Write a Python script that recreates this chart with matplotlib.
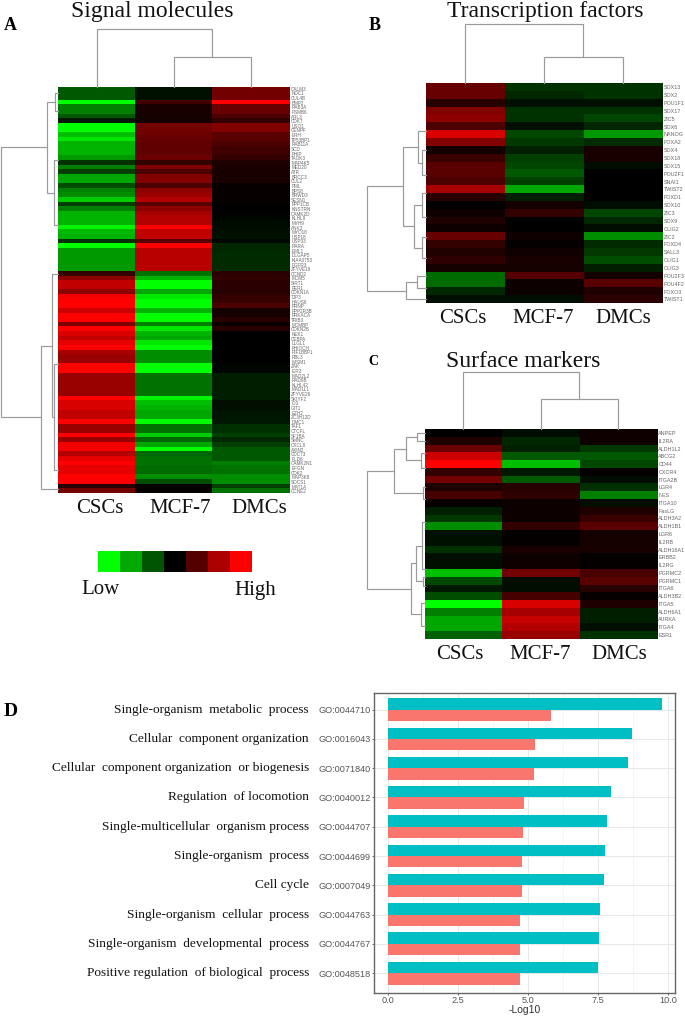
import numpy as np
import matplotlib
matplotlib.use("Agg")
import matplotlib.pyplot as plt
from matplotlib.colors import LinearSegmentedColormap, ListedColormap
from matplotlib.ticker import MultipleLocator

W, H = 685, 1017
SERIF = "Liberation Serif"
SANS = "Liberation Sans"

SAMPLES = ["CSCs", "MCF-7", "DMCs"]

GENES_A = ["CALM3","NDC1","CUL4B","BMP2","RAB3A","PSMB6","ARL3","CDK7","USO1","CENPF","ERH","TP53BP1",
 "RAB11A","SCD","PHIP","TAOK3","MAP4K5","MED20","ATR","BRCC3","CUL2","PML","BPS8","BRWD3","SESN1","PPP1CB",
 "KNSTRN","CAMK2D","KLHL9","MYH9","ANK3","MYO18","USP18","USP33","RARA","EML1","DLGAP5","KIAA0753","FGFR3",
 "ZFYVE19","CCND2","MCM5","SIRT1","PER1","CDKN1A","TJP3","HAUS6","PRNP","PPP2R3B","PRKACA","TRIB3","MCMBP",
 "CDKN2B","NEK1","CEBPA","LLGL1","PHIOCH","RIF1BBP1","RBL3","IMSM1","ZAK","IER3","MAD2L2","RAD9B","KLHL42",
 "MAD1L1","ZFYVE26","SKIYF2","ID3","GIT1","EZH2","ZC3H12D","DMC1","TAF1","CTCFL","SF1BA","SMNC","CXCL8",
 "AXIN2","CDC73","PLD6","CAMK2N1","EFGN","CDK2","MAP3K8","SOCS1","MAT1A","CCNE2"]
VALUES_A = [
 [-.35,-.07,.45],[-.35,-.07,.45],[-.35,-.07,.45],[-1,.25,1],[-.5,.1,.4],[-.5,.1,.4],[-.35,.08,.3],[-.1,.08,.2],
 [-1,.45,.5],[-1,.45,.5],[-.75,.42,.35],[-.9,.4,.35],[-.7,.38,.3],[-.7,.38,.25],[-.7,.38,.25],[-.6,.42,.2],
 [-.2,.2,.12],[-.5,.5,.1],[-.25,.3,.1],[-.65,.5,.1],[-.65,.5,.1],[-.3,.3,.03],[-.5,.55,.03],[-.55,.6,.03],
 [-.8,.7,.03],[-.25,.35,.01],[-.5,.55,0],[-.7,.65,0],[-.7,.7,-.02],[-.7,.7,-.04],[-.95,1,-.05],[-.72,.75,-.06],
 [-.7,.75,-.07],[-.2,.35,-.03],[-1,1,-.15],[-.6,.72,-.15],[-.6,.72,-.17],[-.6,.72,-.17],[-.6,.72,-.17],[-.6,.72,-.17],
 [.2,-.45,.17],[.55,-.7,.2],[.75,-1,.17],[.75,-1,.17],[.55,-.65,.15],[.95,-.9,.2],[1,-1,.22],[1,-1,.3],
 [.8,-.7,.08],[1,-1,.1],[1,-1,.15],[.5,-.5,.05],[1,-.9,.15],[.85,-.7,0],[.75,-.65,0],[.9,-.9,0],
 [1,-1,0],[.65,-.55,0],[.6,-.55,0],[.6,-.55,0],[1,-1,-.02],[1,-1,-.02],[.6,-.45,-.12],[.6,-.45,-.12],
 [.6,-.45,-.12],[.6,-.45,-.12],[.6,-.45,-.12],[1,-.95,-.12],[.85,-.75,-.05],[.85,-.7,-.06],[.75,-.65,-.08],[.75,-.65,-.08],
 [1,-1,-.1],[.6,-.45,-.18],[.6,-.45,-.18],[1,-.8,-.25],[.6,-.4,-.15],[.95,-.65,-.25],[.95,-1,-.35],[.7,-.4,-.35],
 [.9,-.45,-.35],[1,-.45,-.5],[.9,-.42,-.45],[.9,-.42,-.45],[1,-.55,-.55],[1,-.3,-.55],[.15,.02,-.25],[.45,.02,-.45]]

GENES_B = ["SOX13","SOX2","POU1F1","SOX17","ZIC5","SOX6","NANOG","FOXA2","SOX4","SOX18","SOX15","POU2F1","SNAI1",
 "TWIST2","FOXD1","SOX10","ZIC3","SOX9","OLIG2","ZIC2","FOXD4","SALL3","OLIG1","OLIG3","POU2F3","POU4F2","FOXO3","TWIST1"]
VALUES_B = [
 [.4,-.2,-.2],[.4,-.15,-.2],[.15,-.07,-.07],[.5,-.2,-.2],[.55,-.2,-.27],[.3,-.07,-.15],[.85,-.27,-.6],[.5,-.22,-.17],
 [.08,-.12,.1],[.22,-.25,.1],[.35,-.27,-.05],[.35,-.35,0],[.3,-.25,0],[.65,-.65,0],[.15,-.12,0],[0,.08,-.05],
 [.06,.2,-.27],[.12,0,-.15],[.06,0,-.05],[.4,.06,-.55],[.2,.02,-.17],[.13,.07,-.22],[.18,.1,-.3],[.08,.08,-.12],
 [-.42,.33,.08],[-.42,.05,.35],[-.15,.06,.12],[-.05,-.05,.17]]

GENES_C = ["ANPEP","IL2RA","ALDH1L2","ABCG2","CD44","CXCR4","ITGA2B","LGR4","NES","ITGA10","FasLG","ALDH3A2","ALDH1B1",
 "LGR6","IL2RB","ALDH16A1","ERBB2","IL2RG","PGRMC2","PGRMC1","ITGA6","ALDH3B2","ITGA5","ALDH6A1","AURKA","ITGA4","ESR1"]
VALUES_C = [
 [0,-.05,.06],[.12,-.15,.06],[.42,-.13,-.22],[.8,-.35,-.35],[1,-.75,-.28],[.2,-.1,.02],[.45,-.35,-.05],[.12,.15,-.18],
 [.28,.18,-.5],[.03,.05,-.05],[-.12,.05,.12],[-.22,.06,.22],[-.55,.2,.35],[-.07,.02,.08],[-.07,.02,.08],[-.18,.1,.1],
 [-.06,.06,.02],[-.06,.06,.02],[-.75,.45,.28],[-.28,-.05,.35],[-.1,-.05,.15],[-.3,.28,.03],[-1,.85,.12],[-.5,.65,-.12],
 [-.65,.78,-.12],[-.65,.7,-.06],[-.38,.6,-.2]]

# Dendrograms: (height, child, child); a bare number is a leaf position on the gene/sample axis
ROWTREE_A = (1.0,
    (.2, (.05, 1.3, 5.4), (.07, 15.9, 30.0)),
    (.29, (.105, 40.5, (.07, 60.0, 83.0)), 87.0))
ROWTREE_B = (1.0,
    (.378, (.122, 6.03, (.065, 8.5, 11.7)),
           (.19, (.06, 14.0, 17.0), (.06, 19.6, 22.2))),
    (.33, (.14, 24.5, 26.0), 27.5))
ROWTREE_C = (1.0,
    (.53, (.33, (.14, .5, 1.5), (.06, 3.0, 5.0)), (.03, 7.5, 9.0)),
    (.24, (.15, (.05, 12.0, 18.0), (.03, 19.0, 20.2)), (.06, 22.4, 25.3)))
COLTREE_A = (1.0, .5, (.51, 1.5, 2.5))
COLTREE_B = (1.0, .5, (.45, 1.5, 2.5))
COLTREE_C = (1.0, .5, (.52, 1.5, 2.5))

LEGEND_COLORS = ["#00FF00", "#00AA00", "#005500", "#000000", "#550000", "#AA0000", "#FF0000"]

GO_TERMS = ["Single-organism  metabolic  process", "Cellular  component organization",
 "Cellular  component organization  or biogenesis", "Regulation  of locomotion",
 "Single-multicellular  organism process", "Single-organism  process", "Cell cycle",
 "Single-organism  cellular  process", "Single-organism  developmental  process",
 "Positive regulation  of biological  process"]
GO_IDS = ["GO:0044710","GO:0016043","GO:0071840","GO:0040012","GO:0044707","GO:0044699","GO:0007049",
 "GO:0044763","GO:0044767","GO:0048518"]
LOG10_CYAN = [9.78, 8.73, 8.59, 7.98, 7.82, 7.74, 7.71, 7.59, 7.52, 7.49]
LOG10_RED = [5.83, 5.24, 5.22, 4.87, 4.83, 4.80, 4.80, 4.73, 4.72, 4.72]

cmap = LinearSegmentedColormap.from_list("gkr", ["#00FF00", "#000000", "#FF0000"])
fig = plt.figure(figsize=(W / 100, H / 100), dpi=100)


def axpx(x0, y0, x1, y1):
    return fig.add_axes([x0 / W, 1 - y1 / H, (x1 - x0) / W, (y1 - y0) / H])


def txt(x, y, s, **kw):
    kw.setdefault("ha", "center")
    kw.setdefault("va", "center")
    kw.setdefault("family", SERIF)
    kw.setdefault("color", "#111111")
    return fig.text(x / W, 1 - y / H, s, **kw)


def draw_tree(ax, node, horizontal):
    if not isinstance(node, tuple):
        return node, 0.0
    h, a, b = node
    pa, ha = draw_tree(ax, a, horizontal)
    pb, hb = draw_tree(ax, b, horizontal)
    xs, ys = [ha, h, h, hb], [pa, pa, pb, pb]
    if not horizontal:
        xs, ys = ys, xs
    ax.plot(xs, ys, color="#9a9a9a", lw=.85, solid_joinstyle="miter", clip_on=False)
    return (pa + pb) / 2, h


def heatmap(box, genes, values, rowtree, coltree, row_left, col_top, fs, label_xs, label_base):
    x0, y0, x1, y1 = box
    ax = axpx(x0, y0, x1, y1)
    ax.imshow(np.array(values), cmap=cmap, vmin=-1, vmax=1, aspect="auto", interpolation="nearest",
              extent=(0, 3, len(genes), 0))
    ax.yaxis.tick_right()
    ax.set_yticks(np.arange(len(genes)) + .5, genes, family=SANS, fontsize=fs, color="#666666")
    ax.tick_params(axis="y", length=0, pad=1.2)
    ax.set_xticks([])
    for s in ax.spines.values():
        s.set_visible(False)
    for cx, name in zip(label_xs, SAMPLES):
        txt(cx, label_base, name, fontsize=15, va="baseline")
    rx = axpx(row_left, y0, x0, y1)
    rx.axis("off")
    rx.set_xlim(1, 0)
    rx.set_ylim(len(genes), 0)
    draw_tree(rx, rowtree, True)
    cxa = axpx(x0, col_top, x1, y0)
    cxa.axis("off")
    cxa.set_xlim(0, 3)
    cxa.set_ylim(0, 1)
    draw_tree(cxa, coltree, False)


heatmap((58, 86.5, 289.5, 493.5), GENES_A, VALUES_A, ROWTREE_A, COLTREE_A, 1, 29, 3.3, (99.5, 180, 259), 513)
heatmap((425.5, 83.3, 662, 303.3), GENES_B, VALUES_B, ROWTREE_B, COLTREE_B, 366.7, 24, 3.9, (463, 543, 623), 323)
heatmap((424.7, 429.3, 656.7, 638.7), GENES_C, VALUES_C, ROWTREE_C, COLTREE_C, 366.7, 371.7, 3.9, (460, 540, 619), 659)

txt(152, 17.5, "Signal molecules", fontsize=17, va="baseline")
txt(545, 17, "Transcription factors", fontsize=17, va="baseline")
txt(523, 367, "Surface markers", fontsize=17, va="baseline")
txt(10, 26, "A", fontsize=13, fontweight="bold", color="black")
txt(375, 26, "B", fontsize=13, fontweight="bold", color="black")
txt(373, 361, "C", fontsize=10, fontweight="bold", color="black")
txt(11, 712, "D", fontsize=14, fontweight="bold", color="black")

# colour key
lg = axpx(98.3, 550.7, 251.7, 572.3)
lg.imshow([np.arange(len(LEGEND_COLORS))], cmap=ListedColormap(LEGEND_COLORS), aspect="auto", interpolation="nearest")
lg.axis("off")
txt(101, 590, "Low", fontsize=15)
txt(255, 590, "High", fontsize=15)

# panel D
bx = axpx(374, 692.7, 675.5, 993)
ypos = np.arange(len(GO_IDS))
bar_h = .39
bx.barh(ypos - bar_h / 2, LOG10_CYAN, height=bar_h, color="#00BFC4", zorder=3)
bx.barh(ypos + bar_h / 2, LOG10_RED, height=bar_h, color="#F8766D", zorder=3)
bx.set_xlim(-.5, 10.27)
bx.set_ylim(9.68, -.58)
bx.set_yticks(ypos, GO_IDS, family=SANS, fontsize=6.6, color="#555555")
bx.set_xticks([0, 2.5, 5, 7.5, 10], ["0.0", "2.5", "5.0", "7.5", "10.0"], family=SANS, fontsize=6.6, color="#555555")
bx.xaxis.set_minor_locator(MultipleLocator(1.25))
bx.tick_params(axis="both", which="major", length=1.5, width=.6, color="#555555", pad=1)
bx.tick_params(axis="x", which="minor", length=0)
bx.grid(True, which="major", color="#e8e8e8", lw=.7, zorder=0)
bx.grid(True, which="minor", axis="x", color="#f1f1f1", lw=.5, zorder=0)
bx.set_axisbelow(True)
for s in bx.spines.values():
    s.set_color("#666666")
    s.set_linewidth(1)
bx.set_xlabel("-Log10", family=SANS, fontsize=7.5, color="#333333", labelpad=0)
for i, term in enumerate(GO_TERMS):
    bx.annotate(term, xy=(0, i), xycoords=bx.get_yaxis_transform(), xytext=(309 / W, 0),
                textcoords=("figure fraction", "offset points"), ha="right", va="center",
                family=SERIF, fontsize=9.6, color="#111111")

fig.savefig("out.png", dpi=100)
